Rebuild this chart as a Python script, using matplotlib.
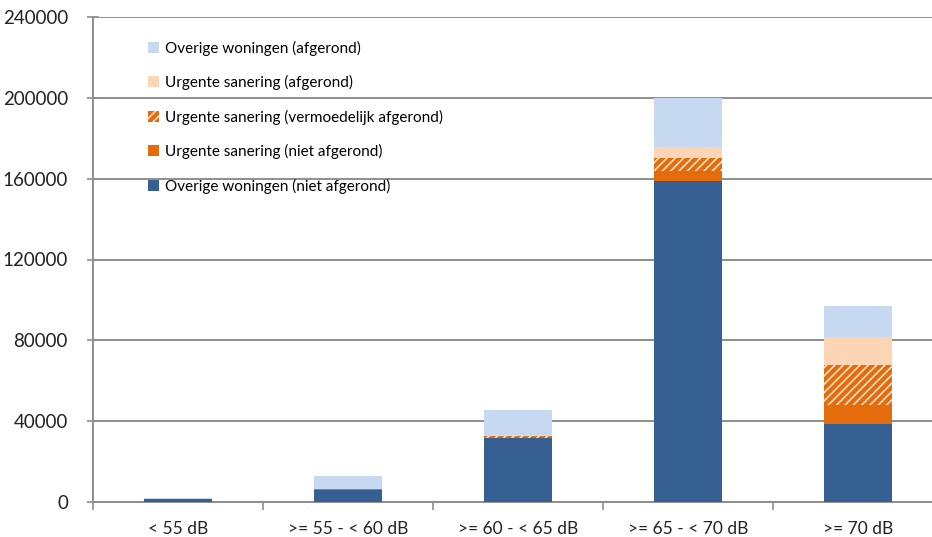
import matplotlib.pyplot as plt
import numpy as np

plt.rcParams['font.family'] = ['Lato', 'DejaVu Sans']
plt.rcParams['hatch.linewidth'] = 1.2

categories = ['< 55 dB', '>= 55 - < 60 dB', '>= 60 - < 65 dB', '>= 65 - < 70 dB', '>= 70 dB']

# stacked from bottom to top
overige_niet = [1500, 6000, 31500, 159000, 38400]
urgent_niet = [0, 300, 0, 5000, 9600]
urgent_vermoed = [0, 0, 1300, 6400, 19800]
urgent_afg = [0, 300, 300, 5300, 13700]
overige_afg = [400, 6300, 12400, 24300, 15500]

yticks = [0, 40000, 80000, 120000, 160000, 200000, 240000]

c_dark = '#376092'
c_orange = '#E46C0A'
c_peach = '#FCD5B5'
c_light = '#C6D9F1'

fig = plt.figure(figsize=(9.32, 5.37), dpi=100)
ax = fig.add_axes([93 / 932, 35 / 537, 850 / 932, 485 / 537])

x = np.arange(len(categories))
w = 0.4
bottom = np.zeros(len(categories))

b1 = ax.bar(x, overige_niet, w, bottom=bottom, color=c_dark, linewidth=0, zorder=3,
            label='Overige woningen (niet afgerond)')
bottom += overige_niet
b2 = ax.bar(x, urgent_niet, w, bottom=bottom, color=c_orange, linewidth=0, zorder=3,
            label='Urgente sanering (niet afgerond)')
bottom += urgent_niet
b3 = ax.bar(x, urgent_vermoed, w, bottom=bottom, color=c_orange, edgecolor='#FBE0CC',
            hatch='////', linewidth=0, zorder=3,
            label='Urgente sanering (vermoedelijk afgerond)')
bottom += urgent_vermoed
b4 = ax.bar(x, urgent_afg, w, bottom=bottom, color=c_peach, linewidth=0, zorder=3,
            label='Urgente sanering (afgerond)')
bottom += urgent_afg
b5 = ax.bar(x, overige_afg, w, bottom=bottom, color=c_light, linewidth=0, zorder=3,
            label='Overige woningen (afgerond)')

ax.set_xlim(-0.5, len(categories) - 0.5)
ax.set_ylim(0, 240000)
ax.set_yticks(yticks)
ax.set_yticklabels([str(t) for t in yticks], fontsize=13.5, color='#222222')
ax.yaxis.grid(True, color='#8e8e8e', linewidth=1.4, zorder=0)
ax.set_xticks(x)
ax.set_xticklabels(categories, fontsize=12.5, color='#222222')
ax.set_xticks(np.arange(-0.5, len(categories)), minor=True)
ax.tick_params(axis='x', which='major', length=0, pad=14)
ax.tick_params(axis='x', which='minor', length=6, direction='out', color='#8e8e8e', width=1.2)
ax.tick_params(axis='y', length=8, direction='inout', color='#8e8e8e', width=1.2, pad=14)

for s in ['top', 'right']:
    ax.spines[s].set_visible(False)
for s in ['left', 'bottom']:
    ax.spines[s].set_color('#8e8e8e')
    ax.spines[s].set_linewidth(1.4)

handles = [b5, b4, b3, b2, b1]
fig.legend(handles=handles, labels=[h.get_label() for h in handles],
           loc='upper left', bbox_to_anchor=(140 / 932, 1 - 33 / 537),
           frameon=False, fontsize=11, handlelength=0.75, handleheight=0.75,
           handletextpad=0.4, labelspacing=1.27, borderpad=0)

fig.savefig('out.png', dpi=100)
